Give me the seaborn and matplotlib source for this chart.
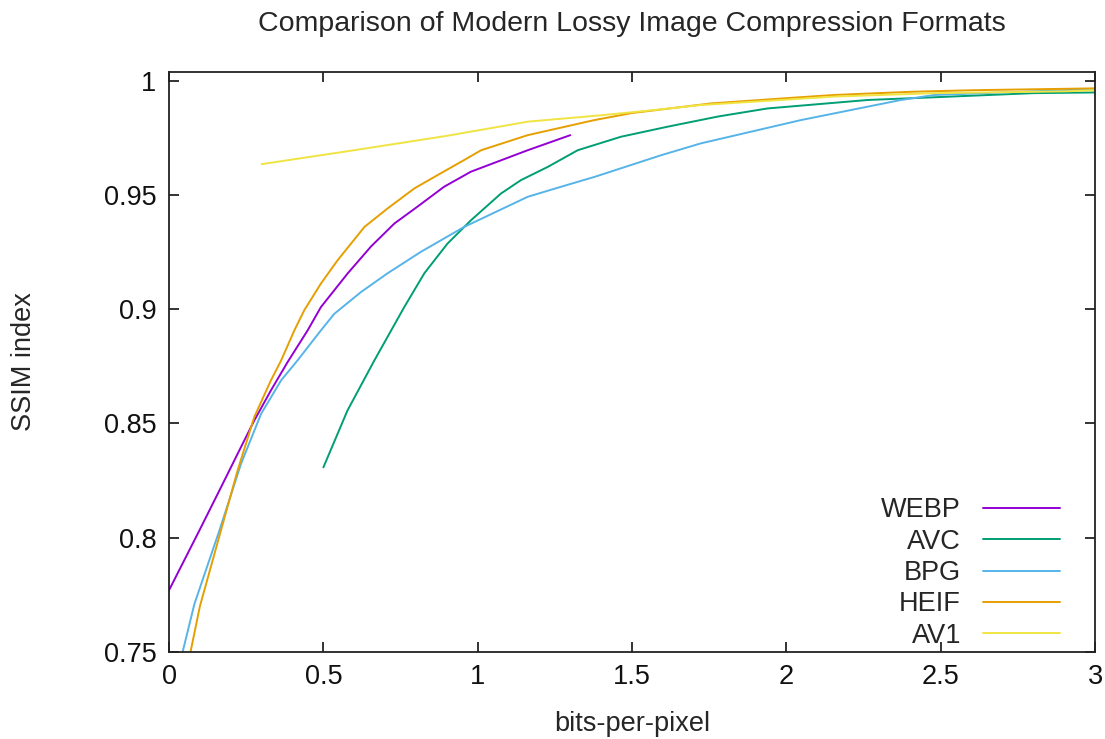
import pandas as pd
import matplotlib
matplotlib.use("Agg")
import matplotlib.pyplot as plt
import seaborn as sns

# bits-per-pixel / SSIM samples
webp_x = [0, 0.098, 0.168, 0.222, 0.276, 0.33, 0.384, 0.449, 0.492, 0.579, 0.654, 0.73, 0.805, 0.891, 0.978, 1.162, 1.3]
webp_y = [0.777, 0.8031, 0.822, 0.8367, 0.8513, 0.8645, 0.8769, 0.8908, 0.901, 0.9158, 0.9275, 0.9376, 0.945, 0.9537, 0.9603, 0.9697, 0.9763]

avc_x = [0.5, 0.578, 0.665, 0.762, 0.827, 0.902, 0.978, 1.075, 1.14, 1.227, 1.324, 1.464, 1.615, 1.78, 1.939, 2.263, 2.48, 2.8, 3.0]
avc_y = [0.8308, 0.8557, 0.8776, 0.901, 0.9158, 0.9288, 0.939, 0.9507, 0.9566, 0.9624, 0.9697, 0.9756, 0.980, 0.9845, 0.988, 0.9917, 0.9929, 0.9947, 0.995]

bpg_x = [0.035, 0.082, 0.163, 0.233, 0.298, 0.363, 0.416, 0.492, 0.535, 0.622, 0.708, 0.816, 0.956, 1.162, 1.27, 1.378, 1.594, 1.723, 2.047, 2.371, 2.48, 2.7, 3.0]
bpg_y = [0.745, 0.7709, 0.8031, 0.8323, 0.8542, 0.8689, 0.8776, 0.8908, 0.898, 0.9076, 0.9158, 0.9252, 0.9361, 0.9493, 0.9537, 0.958, 0.9675, 0.9727, 0.9829, 0.9917, 0.9939, 0.995, 0.9965]

heif_x = [0.062, 0.1, 0.168, 0.222, 0.276, 0.33, 0.363, 0.406, 0.438, 0.492, 0.546, 0.633, 0.708, 0.795, 0.87, 0.956, 1.011, 1.162, 1.378, 1.5, 1.756, 2.0, 2.155, 2.404, 2.609, 3.0]
heif_y = [0.745, 0.77, 0.8031, 0.8294, 0.8528, 0.8689, 0.8776, 0.8908, 0.8996, 0.9113, 0.9215, 0.9361, 0.9442, 0.953, 0.9588, 0.9654, 0.9697, 0.9763, 0.9829, 0.986, 0.9902, 0.9925, 0.9939, 0.9953, 0.996, 0.9968]

av1_x = [0.3, 0.6, 0.9, 1.162, 1.399, 1.572, 1.723, 2.155, 2.48, 2.91, 3.0]
av1_y = [0.9636, 0.9697, 0.976, 0.9822, 0.985, 0.9873, 0.9895, 0.9932, 0.9947, 0.9955, 0.996]

formats = ["WEBP", "AVC", "BPG", "HEIF", "AV1"]
colors = ["#9400d3", "#009e73", "#56b4e9", "#e69f00", "#f0e442"]

x_ticks = [0, 0.5, 1, 1.5, 2, 2.5, 3]
x_labels = ["0", "0.5", "1", "1.5", "2", "2.5", "3"]
y_ticks = [0.75, 0.8, 0.85, 0.9, 0.95, 1.0]
y_labels = ["0.75", "0.8", "0.85", "0.9", "0.95", "1"]

series = {
    "WEBP": (webp_x, webp_y),
    "AVC": (avc_x, avc_y),
    "BPG": (bpg_x, bpg_y),
    "HEIF": (heif_x, heif_y),
    "AV1": (av1_x, av1_y),
}
df = pd.concat(
    [pd.DataFrame({"bpp": xs, "ssim": ys, "format": name}) for name, (xs, ys) in series.items()],
    ignore_index=True,
)

sns.set_style("ticks")
plt.rcParams["font.family"] = ["Liberation Sans", "DejaVu Sans"]

fig = plt.figure(figsize=(11.05, 7.39), dpi=100)
ax = fig.add_axes([0.153, 0.118, 0.838, 0.785])

sns.lineplot(data=df, x="bpp", y="ssim", hue="format", hue_order=formats,
             palette=dict(zip(formats, colors)), estimator=None, sort=False,
             linewidth=1.4, ax=ax)

ax.set_xlim(0, 3)
ax.set_ylim(0.75, 1.0041)
ax.set_xticks(x_ticks, x_labels)
ax.set_yticks(y_ticks, y_labels)
ax.tick_params(direction="in", length=7, width=1.2, top=True, right=True,
               labelsize=19.5, colors="#111111", pad=9)
for s in ax.spines.values():
    s.set_visible(True)
    s.set_linewidth(1.3)
    s.set_color("#222222")

ax.set_title("Comparison of Modern Lossy Image Compression Formats", fontsize=20.5, pad=29)
ax.set_xlabel("bits-per-pixel", fontsize=19.5, labelpad=15)
ax.set_ylabel("SSIM index", fontsize=19.5, labelpad=48)

ax.legend(loc="lower right", markerfirst=False, frameon=False, fontsize=19.5,
          handlelength=2.85, handletextpad=0.8, labelspacing=0.2,
          borderpad=0, borderaxespad=0, bbox_to_anchor=(0.962, 0.005))

fig.savefig("out.png", dpi=100)
